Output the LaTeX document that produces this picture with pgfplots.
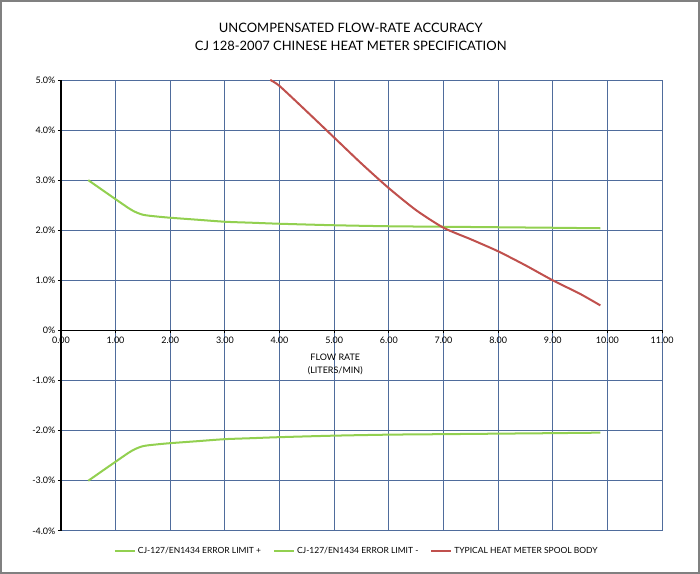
\documentclass[border=0pt]{standalone}
\usepackage{fontspec}
\setmainfont{Lato}
\usepackage{pgfplots}
\pgfplotsset{compat=1.18}
\definecolor{gridblue}{RGB}{79,108,156}
\definecolor{limgreen}{RGB}{146,208,80}
\definecolor{spoolred}{RGB}{192,80,77}
\begin{document}
\begin{tikzpicture}
\begin{axis}[
  width=600bp, height=450bp, scale only axis,
  xmin=0, xmax=11, ymin=-4, ymax=5,
  axis x line=middle, axis y line=left,
  hide obscured x ticks=false, hide obscured y ticks=false,
  x axis line style={-, black, line width=1.4bp},
  y axis line style={-, black, line width=2.6bp},
  xtick={0,1,...,11}, ytick={-4,-3,...,5},
  yticklabels={-4.0\%,-3.0\%,-2.0\%,-1.0\%,0\%,1.0\%,2.0\%,3.0\%,4.0\%,5.0\%},
  xticklabel style={/pgf/number format/.cd, fixed, fixed zerofill, precision=2, /tikz/.cd, font=\fontsize{9}{10}\selectfont, yshift=0bp},
  yticklabel style={font=\fontsize{9}{10}\selectfont, xshift=1bp},
  /pgf/number format/assume math mode=true,
  tick align=outside, major tick length=3bp,
  tick style={black, line width=0.8bp},
  grid=major, major grid style={gridblue, line width=0.9bp},
  clip=false,
  title={UNCOMPENSATED FLOW-RATE ACCURACY\\CJ 128-2007 CHINESE HEAT METER SPECIFICATION},
  title style={at={(0.482,1)}, anchor=south, yshift=20bp, align=center, font=\fontsize{13}{18}\selectfont},
  legend columns=3,
  legend style={at={(0.492,-0.044)}, anchor=center, draw=none, font=\fontsize{8.5}{9}\selectfont,
    /tikz/every even column/.append style={column sep=10bp}},
  legend image code/.code={\draw[#1] (0bp,0bp) -- (20bp,0bp);},
]
\addplot[limgreen, line width=2bp, smooth, tension=0.45] coordinates {
 (0.5,3.0) (1.0,2.62) (1.3,2.40) (1.5,2.31) (1.75,2.275) (2.0,2.25) (2.5,2.21) (3.0,2.17)
 (3.5,2.15) (4.0,2.13) (5.0,2.10) (6.0,2.08) (7.0,2.07) (8.0,2.06) (9.0,2.05) (9.87,2.04)};
\addlegendentry{CJ-127/EN1434 ERROR LIMIT +}
\addplot[limgreen, line width=2bp, smooth, tension=0.45] coordinates {
 (0.5,-3.0) (1.0,-2.62) (1.3,-2.40) (1.5,-2.31) (1.75,-2.275) (2.0,-2.25) (2.5,-2.21) (3.0,-2.17)
 (3.5,-2.15) (4.0,-2.13) (5.0,-2.10) (6.0,-2.08) (7.0,-2.07) (8.0,-2.06) (9.0,-2.05) (9.87,-2.04)};
\addlegendentry{CJ-127/EN1434 ERROR LIMIT -}
\addplot[spoolred, line width=2bp, smooth, tension=0.4] coordinates {
 (3.83,5.0) (4.0,4.88) (4.5,4.37) (5.0,3.85) (5.5,3.33) (6.0,2.84) (6.5,2.40) (7.0,2.05)
 (7.5,1.82) (8.0,1.58) (8.5,1.30) (9.0,1.00) (9.5,0.73) (9.87,0.50)};
\addlegendentry{TYPICAL HEAT METER SPOOL BODY}
\node[align=center, anchor=north, font=\fontsize{9}{12.5}\selectfont] at (axis cs:5.02,-0.40) {FLOW RATE\\(LITERS/MIN)};
\draw[gray, line width=1.6bp] (rel axis cs:-0.1,-0.0933) rectangle (rel axis cs:1.0617,1.1756);
\end{axis}
\end{tikzpicture}
\end{document}
